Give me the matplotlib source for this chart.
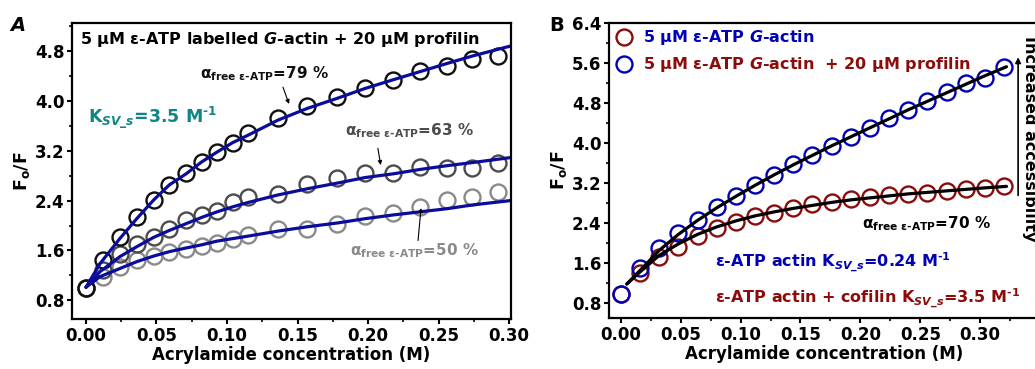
import matplotlib
matplotlib.use('Agg')
import matplotlib.pyplot as plt
from matplotlib.ticker import MultipleLocator
from matplotlib.lines import Line2D

plt.rcParams['font.family'] = 'DejaVu Sans'
plt.rcParams['font.weight'] = 'bold'
plt.rcParams['mathtext.fontset'] = 'custom'
plt.rcParams['mathtext.rm'] = 'DejaVu Sans:bold'
plt.rcParams['mathtext.it'] = 'DejaVu Sans:italic:bold'
plt.rcParams['mathtext.bf'] = 'DejaVu Sans:bold'

# ---- panel A: eps-ATP G-actin + profilin, acrylamide quenching ----
conc_a = [0.0, 0.012, 0.024, 0.036, 0.048, 0.059, 0.071, 0.082, 0.093, 0.104,
          0.115, 0.136, 0.157, 0.178, 0.198, 0.218, 0.237, 0.256, 0.274, 0.292]
fo_79 = [1.0, 1.44, 1.82, 2.14, 2.41, 2.65, 2.84, 3.02, 3.18, 3.33,
         3.48, 3.73, 3.91, 4.07, 4.20, 4.33, 4.48, 4.56, 4.67, 4.72]
fo_63 = [1.0, 1.28, 1.55, 1.71, 1.82, 1.94, 2.09, 2.17, 2.24, 2.38,
         2.46, 2.51, 2.66, 2.77, 2.85, 2.84, 2.94, 2.92, 2.92, 3.00]
fo_50 = [1.0, 1.18, 1.34, 1.44, 1.51, 1.58, 1.63, 1.67, 1.72, 1.79,
         1.84, 1.94, 1.94, 2.03, 2.15, 2.20, 2.29, 2.41, 2.46, 2.54]

fit_x_a = [0.0, 0.01, 0.024, 0.036, 0.048, 0.059, 0.071, 0.082, 0.093, 0.104,
           0.115, 0.136, 0.157, 0.178, 0.198, 0.218, 0.237, 0.256, 0.274, 0.301]
fit_79 = [1.01, 1.39, 1.79, 2.11, 2.41, 2.65, 2.83, 3.02, 3.18, 3.33,
          3.45, 3.69, 3.88, 4.04, 4.20, 4.34, 4.47, 4.60, 4.72, 4.88]
fit_63 = [1.01, 1.26, 1.50, 1.66, 1.81, 1.92, 2.03, 2.13, 2.22, 2.30,
          2.37, 2.49, 2.59, 2.68, 2.77, 2.83, 2.90, 2.96, 3.01, 3.09]
fit_50 = [1.01, 1.18, 1.31, 1.42, 1.51, 1.58, 1.64, 1.69, 1.75, 1.79,
          1.83, 1.91, 1.98, 2.04, 2.11, 2.17, 2.22, 2.27, 2.33, 2.40]

# ---- panel B: G-actin with / without profilin ----
conc_b = [0.0, 0.016, 0.032, 0.048, 0.064, 0.080, 0.096, 0.112, 0.128, 0.144, 0.160,
          0.176, 0.192, 0.208, 0.224, 0.240, 0.256, 0.272, 0.288, 0.304, 0.320]
fo_blue = [0.97, 1.49, 1.89, 2.19, 2.45, 2.71, 2.93, 3.15, 3.35, 3.57, 3.75,
           3.93, 4.11, 4.29, 4.49, 4.65, 4.84, 5.02, 5.19, 5.30, 5.51]
fo_red = [0.97, 1.40, 1.72, 1.92, 2.13, 2.29, 2.42, 2.53, 2.60, 2.69, 2.77,
          2.82, 2.87, 2.92, 2.95, 2.97, 3.00, 3.04, 3.07, 3.10, 3.13]

fit_x_b = [0.005, 0.016, 0.032, 0.048, 0.064, 0.080, 0.096, 0.112, 0.128, 0.144, 0.160,
           0.176, 0.192, 0.208, 0.224, 0.240, 0.256, 0.272, 0.288, 0.304, 0.322]
fit_blue = [1.18, 1.45, 1.85, 2.17, 2.45, 2.70, 2.93, 3.15, 3.36, 3.56, 3.75,
            3.94, 4.12, 4.30, 4.48, 4.66, 4.83, 5.00, 5.17, 5.34, 5.52]
fit_red = [1.18, 1.42, 1.75, 1.98, 2.17, 2.32, 2.44, 2.54, 2.62, 2.69, 2.75,
           2.81, 2.86, 2.90, 2.94, 2.98, 3.01, 3.04, 3.07, 3.10, 3.13]

navy = '#0b0b9c'
teal = '#108585'
c_blue = '#0000b4'
c_red = '#8c0c0c'
circ = dict(marker='o', ls='none', ms=11.5, mfc='none', mew=1.7)

fig = plt.figure(figsize=(10.35, 3.69), dpi=100)


def style_axes(ax, ymin, ymax, xmax):
    ax.set_xlim(-0.0099, xmax)
    ax.set_ylim(ymin, ymax)
    ax.xaxis.set_major_locator(MultipleLocator(0.05))
    ax.xaxis.set_minor_locator(MultipleLocator(0.025))
    ax.yaxis.set_major_locator(MultipleLocator(0.8))
    ax.yaxis.set_minor_locator(MultipleLocator(0.4))
    ax.xaxis.set_major_formatter(plt.FormatStrFormatter('%.2f'))
    ax.yaxis.set_major_formatter(plt.FormatStrFormatter('%.1f'))
    ax.tick_params(which='major', direction='out', length=3.5, width=1.5,
                   labelsize=12, pad=2)
    ax.tick_params(which='minor', direction='out', length=2, width=1.2)
    for s in ax.spines.values():
        s.set_linewidth(1.6)
    ax.set_xlabel('Acrylamide concentration (M)', fontsize=12, fontweight='bold', labelpad=1)
    ax.set_ylabel('F$_{\\mathrm{o}}$/F', fontsize=12.5, fontweight='bold', labelpad=2)


# panel A
ax1 = fig.add_axes([0.0696, 0.1355, 0.4241, 0.8022])
ax1.plot(conc_a, fo_50, mec='#8a8a8a', **circ)
ax1.plot(conc_a, fo_63, mec='#4c4c4c', **circ)
ax1.plot(conc_a, fo_79, mec='#101010', **circ)
for fy in (fit_79, fit_63, fit_50):
    ax1.plot(fit_x_a, fy, color=navy, lw=2.3, solid_capstyle='round')
style_axes(ax1, 0.5, 5.25, 0.3014)

ax1.text(-0.004, 4.98, '5 μM ε-ATP labelled $\\mathit{G}$-actin + 20 μM profilin',
         fontsize=11.5, va='center', ha='left')
ax1.text(0.0014, 3.64, 'K$_{\\mathit{SV\\_s}}$=3.5 M$^{\\text{-1}}$',
         fontsize=12.5, color=teal, va='baseline')

alpha_lbl = 'α$_{\\text{free ε-ATP}}$=%d %%'
ax1.text(0.081, 4.37, alpha_lbl % 79, fontsize=11, color='#101010', va='baseline')
ax1.text(0.184, 3.45, alpha_lbl % 63, fontsize=11, color='#4c4c4c', va='baseline')
ax1.text(0.187, 1.52, alpha_lbl % 50, fontsize=11, color='#8a8a8a', va='baseline')
arrow = dict(arrowstyle='-|>', color='black', lw=0.8, mutation_scale=6,
             shrinkA=0, shrinkB=0)
ax1.annotate('', xy=(0.144, 3.95), xytext=(0.1397, 4.22), arrowprops=arrow)
ax1.annotate('', xy=(0.209, 2.97), xytext=(0.207, 3.24), arrowprops=arrow)
ax1.annotate('', xy=(0.2376, 2.28), xytext=(0.2355, 1.76), arrowprops=arrow)

# panel B (runs off the right edge of the figure)
ax2 = fig.add_axes([0.5884, 0.1382, 0.4153, 0.8003])
ax2.plot(conc_b, fo_red, mec=c_red, **circ)
ax2.plot(conc_b, fo_blue, mec=c_blue, **circ)
ax2.plot(fit_x_b, fit_blue, color='black', lw=2.3, solid_capstyle='round')
ax2.plot(fit_x_b, fit_red, color='black', lw=2.3, solid_capstyle='round')
style_axes(ax2, 0.5, 6.4, 0.349)
ax2.spines['right'].set_visible(False)

handles = [Line2D([], [], mec=c_red, **circ), Line2D([], [], mec=c_blue, **circ)]
labels = ['5 μM ε-ATP $\\mathit{G}$-actin', '5 μM ε-ATP $\\mathit{G}$-actin  + 20 μM profilin']
ax2.legend(handles, labels, loc='upper left', frameon=False, fontsize=11.5,
           labelcolor=[c_blue, c_red], borderaxespad=0.15, handletextpad=0.6,
           handlelength=1.2, labelspacing=0.5, borderpad=0.2)

ax2.text(0.2015, 2.29, alpha_lbl % 70, fontsize=11, color='black', va='baseline')
ax2.text(0.0788, 1.51, 'ε-ATP actin K$_{\\mathit{SV\\_s}}$=0.24 M$^{\\text{-1}}$',
         fontsize=11.5, color=c_blue, va='baseline')
ax2.text(0.0788, 0.79, 'ε-ATP actin + cofilin K$_{\\mathit{SV\\_s}}$=3.5 M$^{\\text{-1}}$',
         fontsize=11.5, color=c_red, va='baseline')
ax2.annotate('', xy=(0.3317, 5.71), xytext=(0.3317, 2.95),
             arrowprops=dict(arrowstyle='-|>', color='black', lw=1.2,
                             mutation_scale=8, shrinkA=0, shrinkB=0))
ax2.text(0.3415, 4.09, 'Increased accessibility', rotation=270, fontsize=11.5,
         ha='center', va='center', clip_on=False)

fig.text(0.010, 0.932, 'A', fontsize=14, fontstyle='italic', fontweight='bold', va='center')
fig.text(0.531, 0.932, 'B', fontsize=14, fontweight='bold', va='center')

fig.savefig('out.png', dpi=100)
